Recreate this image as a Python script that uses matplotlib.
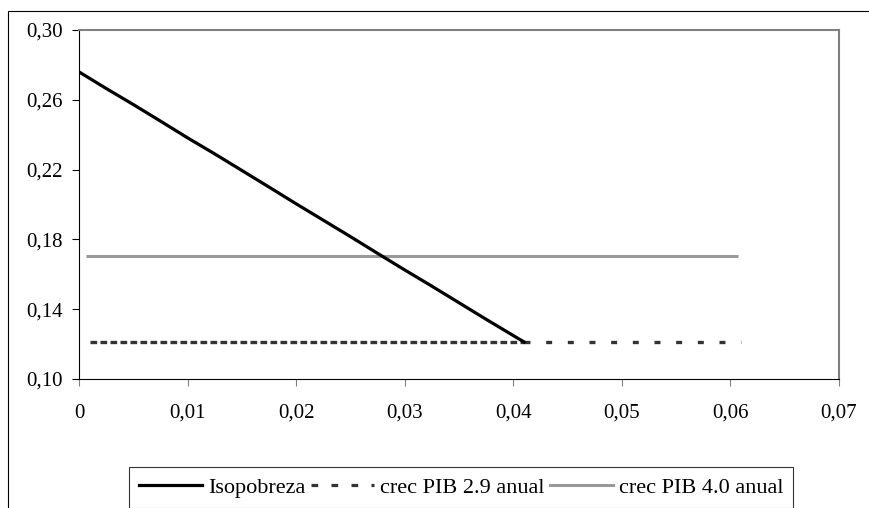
import matplotlib
matplotlib.use("Agg")
import matplotlib.pyplot as plt
from matplotlib.lines import Line2D
from matplotlib.patches import Rectangle

plt.rcParams['font.family'] = ['Liberation Serif', 'DejaVu Serif']
plt.rcParams['lines.scale_dashes'] = False

# Isopobreza curve
iso_x = [0, 0.0025, 0.005, 0.0075, 0.01, 0.0125, 0.015, 0.0175, 0.02,
         0.0225, 0.025, 0.0275, 0.03, 0.0325, 0.035, 0.0375, 0.04, 0.041]
iso_y = [0.276, 0.2665, 0.2573, 0.2478, 0.2382, 0.2290, 0.2195, 0.2100, 0.2004,
         0.1910, 0.1816, 0.1720, 0.1625, 0.1532, 0.1437, 0.1342, 0.1249, 0.1212]

# crec PIB 2.9 anual (flat) - dense points up to the kink, sparse after
pib29_x = [0.001, 0.041, 0.061]
pib29_y = [0.1212, 0.1212, 0.1212]

# crec PIB 4.0 anual (flat)
pib40_x = [0.0006, 0.0607]
pib40_y = [0.1703, 0.1703]

xticks = [0, 0.01, 0.02, 0.03, 0.04, 0.05, 0.06, 0.07]
xlabels = ['0', '0,01', '0,02', '0,03', '0,04', '0,05', '0,06', '0,07']
yticks = [0.10, 0.14, 0.18, 0.22, 0.26, 0.30]
ylabels = ['0,10', '0,14', '0,18', '0,22', '0,26', '0,30']

fig = plt.figure(figsize=(8.7, 5.08), dpi=100)
ax = fig.add_axes([79 / 870, 1 - 379 / 508, 760 / 870, 349 / 508])

ax.plot(pib40_x, pib40_y, color='#999999', lw=2.2, solid_capstyle='butt')
ax.plot(pib29_x[:2], pib29_y[:2], color='#333333', lw=2.4,
        dashes=(4.8, 2.4), dash_capstyle='butt')
ax.plot(pib29_x[1:], pib29_y[1:], color='#333333', lw=2.4,
        dashes=(4.3, 11.3), dash_capstyle='butt')
ax.plot(iso_x, iso_y, color='black', lw=2.3, solid_joinstyle='round')

ax.set_xlim(0, 0.07)
ax.set_ylim(0.10, 0.30)
ax.set_xticks(xticks)
ax.set_xticklabels(xlabels)
ax.set_yticks(yticks)
ax.set_yticklabels(ylabels)

ax.tick_params(axis='y', direction='out', length=5, width=0.8, color='black',
               labelsize=15, pad=6.5)
ax.tick_params(axis='x', direction='out', length=5, width=0.8, color='#808080',
               labelsize=15, pad=13)

ax.spines['left'].set_color('black')
ax.spines['left'].set_linewidth(0.8)
ax.spines['bottom'].set_color('black')
ax.spines['bottom'].set_linewidth(0.8)
ax.spines['top'].set_color('#808080')
ax.spines['top'].set_linewidth(1.5)
ax.spines['right'].set_color('#808080')
ax.spines['right'].set_linewidth(1.5)

# outer chart frame
fig.patches.append(Rectangle((8 / 870, -0.1), 1.2, 1 - 11 / 508 + 0.1,
                             transform=fig.transFigure, fill=False,
                             edgecolor='black', lw=0.8))

handles = [
    Line2D([], [], color='black', lw=2.3),
    Line2D([], [], color='#333333', lw=2.3, dashes=(4.8, 9.6), dash_capstyle='butt'),
    Line2D([], [], color='#999999', lw=2.2),
]
labels = ['Isopobreza', 'crec PIB 2.9 anual', 'crec PIB 4.0 anual']
leg = fig.legend(handles, labels, loc='upper left', ncol=3,
                 bbox_to_anchor=(129 / 870, 1 - 467 / 508), fontsize=16,
                 frameon=True, fancybox=False, edgecolor='black',
                 handlelength=2.85, handletextpad=0.25, columnspacing=0.25,
                 borderpad=0.45, borderaxespad=0)
leg.get_frame().set_linewidth(0.8)

fig.savefig('out.png', dpi=100)
